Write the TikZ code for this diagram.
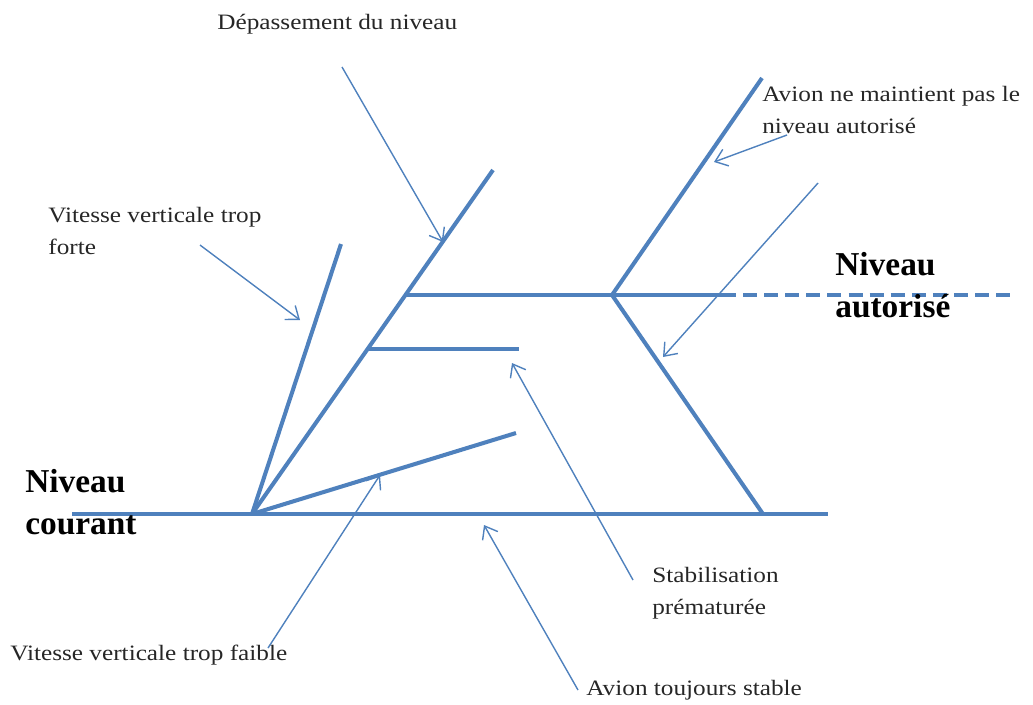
\documentclass[tikz,border=0pt]{standalone}
\usepackage{fontspec}
\setmainfont{Liberation Serif}
\newfontfamily\etiq{Liberation Serif}[FakeStretch=1.15]
\usetikzlibrary{arrows.meta}

\definecolor{trait}{HTML}{4F81BD}

\begin{document}
\begin{tikzpicture}[x=0.02cm,y=-0.02cm,
  axe/.style={draw=trait,line width=2.3pt},
  fleche/.style={draw=trait,line width=0.8pt,-{Straight Barb[length=6.5pt,width=10pt]}},
  texte/.style={anchor=west,align=left,inner sep=0pt,text=black!85,font=\etiq\fontsize{12.5}{18.5}\selectfont},
  niveau/.style={anchor=west,align=left,inner sep=0pt,text=black,font=\fontsize{19}{24}\selectfont\bfseries}]

\useasboundingbox (0,0) rectangle (1033,704);

% Origin on the current level
\coordinate (O) at (252,514);

% Current level
\coordinate (G) at (72,514);
\coordinate (D) at (828,514);
\draw[axe] (G)--(D);

% Authorised level
\coordinate (A) at (405,295);
\coordinate (B) at (612,295);
\coordinate (Bd) at (722,295);
\coordinate (Bf) at (1015,295);
\draw[axe] (A)--(Bd);
\draw[axe,dash pattern=on 8pt off 4pt] (Bd)--(Bf);

% Climb branches from the origin
\coordinate (F) at (341,244);
\coordinate (M) at (493,170);
\coordinate (L) at (516,433);
\draw[axe] (O)--(F);
\draw[axe] (O)--(M);
\draw[axe] (O)--(L);

% Early levelling
\coordinate (S) at (368,349);
\coordinate (Sf) at (519,349);
\draw[axe] (S)--(Sf);

% Overshoot and return
\coordinate (H) at (762,78);
\coordinate (R) at (763,514);
\draw[axe] (B)--(H);
\draw[axe] (B)--(R);

% Labels
\node[niveau] (nc) at (25,502) {Niveau\\courant};
\node[niveau] (na) at (835,285) {Niveau\\autorisé};
\node[texte] (dep) at (217,24) {Dépassement du niveau};
\node[texte] (vf) at (48,231) {Vitesse verticale trop\\forte};
\node[texte] (mt) at (762,110) {Avion ne maintient pas le\\niveau autorisé};
\node[texte] (sp) at (652,593) {Stabilisation\\prématurée};
\node[texte] (vfa) at (10,655) {Vitesse verticale trop faible};
\node[texte] (st) at (586,690) {Avion toujours stable};

% Arrow tails and heads
\coordinate (t1) at (342,67);
\coordinate (h1) at (443,242);
\coordinate (t2) at (200,245);
\coordinate (h2) at (300,320);
\coordinate (t3) at (787,135);
\coordinate (h3) at (714,162);
\coordinate (t4) at (818,183);
\coordinate (h4) at (663,357);
\coordinate (t5) at (633,580);
\coordinate (h5) at (512,363);
\coordinate (t6) at (578,690);
\coordinate (h6) at (484,525);
\coordinate (t7) at (268,648);
\coordinate (h7) at (380,475);

\draw[fleche] (t1)--(h1);
\draw[fleche] (t2)--(h2);
\draw[fleche] (t3)--(h3);
\draw[fleche] (t4)--(h4);
\draw[fleche] (t5)--(h5);
\draw[fleche] (t6)--(h6);
\draw[fleche] (t7)--(h7);

\end{tikzpicture}
\end{document}
